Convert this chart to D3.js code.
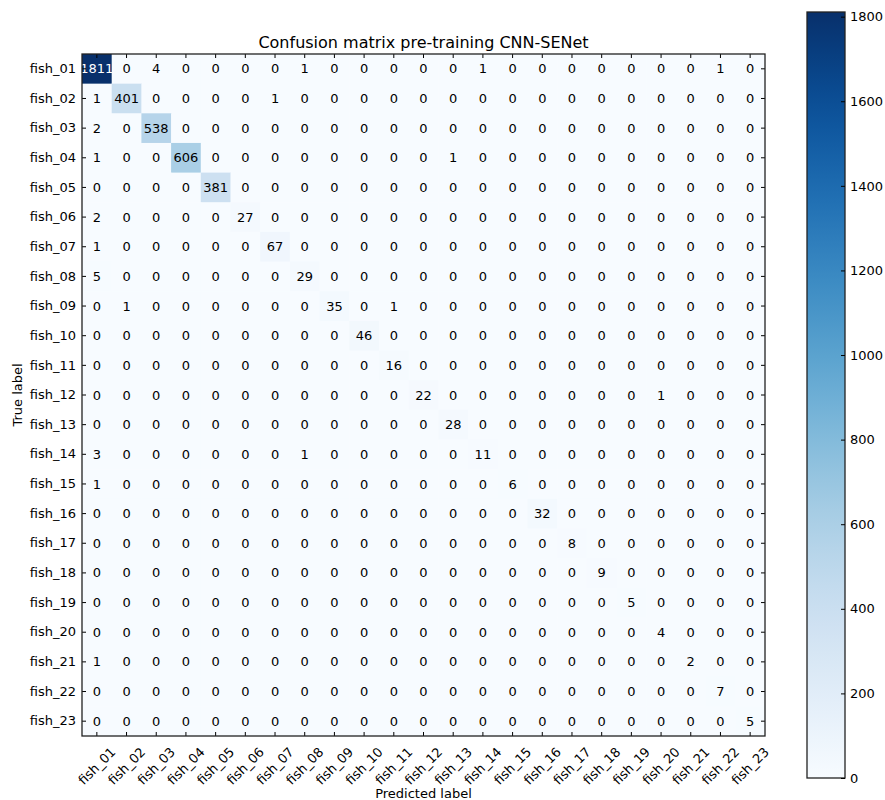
<!DOCTYPE html>
<html>
<head>
<meta charset="utf-8">
<script src="https://cdn.jsdelivr.net/npm/d3@7"></script>
<style>
  body { margin: 0; background: #fff; }
  text { font-family: "DejaVu Sans", sans-serif; fill: #000; }
</style>
</head>
<body>
<div id="chart"></div>
<script>
// class names, same for rows (true) and columns (predicted)
var classes = ["fish_01","fish_02","fish_03","fish_04","fish_05","fish_06","fish_07","fish_08",
               "fish_09","fish_10","fish_11","fish_12","fish_13","fish_14","fish_15","fish_16",
               "fish_17","fish_18","fish_19","fish_20","fish_21","fish_22","fish_23"];

// confusion matrix counts, one row per true label
var counts = [
  [1811,0,4,0,0,0,0,1,0,0,0,0,0,1,0,0,0,0,0,0,0,1,0],
  [1,401,0,0,0,0,1,0,0,0,0,0,0,0,0,0,0,0,0,0,0,0,0],
  [2,0,538,0,0,0,0,0,0,0,0,0,0,0,0,0,0,0,0,0,0,0,0],
  [1,0,0,606,0,0,0,0,0,0,0,0,1,0,0,0,0,0,0,0,0,0,0],
  [0,0,0,0,381,0,0,0,0,0,0,0,0,0,0,0,0,0,0,0,0,0,0],
  [2,0,0,0,0,27,0,0,0,0,0,0,0,0,0,0,0,0,0,0,0,0,0],
  [1,0,0,0,0,0,67,0,0,0,0,0,0,0,0,0,0,0,0,0,0,0,0],
  [5,0,0,0,0,0,0,29,0,0,0,0,0,0,0,0,0,0,0,0,0,0,0],
  [0,1,0,0,0,0,0,0,35,0,1,0,0,0,0,0,0,0,0,0,0,0,0],
  [0,0,0,0,0,0,0,0,0,46,0,0,0,0,0,0,0,0,0,0,0,0,0],
  [0,0,0,0,0,0,0,0,0,0,16,0,0,0,0,0,0,0,0,0,0,0,0],
  [0,0,0,0,0,0,0,0,0,0,0,22,0,0,0,0,0,0,0,1,0,0,0],
  [0,0,0,0,0,0,0,0,0,0,0,0,28,0,0,0,0,0,0,0,0,0,0],
  [3,0,0,0,0,0,0,1,0,0,0,0,0,11,0,0,0,0,0,0,0,0,0],
  [1,0,0,0,0,0,0,0,0,0,0,0,0,0,6,0,0,0,0,0,0,0,0],
  [0,0,0,0,0,0,0,0,0,0,0,0,0,0,0,32,0,0,0,0,0,0,0],
  [0,0,0,0,0,0,0,0,0,0,0,0,0,0,0,0,8,0,0,0,0,0,0],
  [0,0,0,0,0,0,0,0,0,0,0,0,0,0,0,0,0,9,0,0,0,0,0],
  [0,0,0,0,0,0,0,0,0,0,0,0,0,0,0,0,0,0,5,0,0,0,0],
  [0,0,0,0,0,0,0,0,0,0,0,0,0,0,0,0,0,0,0,4,0,0,0],
  [1,0,0,0,0,0,0,0,0,0,0,0,0,0,0,0,0,0,0,0,2,0,0],
  [0,0,0,0,0,0,0,0,0,0,0,0,0,0,0,0,0,0,0,0,0,7,0],
  [0,0,0,0,0,0,0,0,0,0,0,0,0,0,0,0,0,0,0,0,0,0,5]
];

var colorbarTicks = [0,200,400,600,800,1000,1200,1400,1600,1800];

var title = "Confusion matrix pre-training CNN-SENet";

var width = 885, height = 800;
var m = {left: 82, right: 765, top: 54, bottom: 736};

var svg = d3.select("#chart").append("svg")
    .attr("width", width).attr("height", height);

var maxVal = d3.max(counts, function(r){ return d3.max(r); });

var x = d3.scaleBand().domain(classes).range([m.left, m.right]).padding(0);
var y = d3.scaleBand().domain(classes).range([m.top, m.bottom]).padding(0);
var color = d3.scaleSequential(d3.interpolateBlues).domain([0, maxVal]);

// flatten into cells
var cells = [];
counts.forEach(function(row, i){
  row.forEach(function(v, j){
    cells.push({t: classes[i], p: classes[j], v: v});
  });
});

svg.append("g").selectAll("rect")
  .data(cells).enter().append("rect")
    .attr("x", function(d){ return x(d.p); })
    .attr("y", function(d){ return y(d.t); })
    .attr("width", x.bandwidth() + 0.5)
    .attr("height", y.bandwidth() + 0.5)
    .attr("fill", function(d){ return color(d.v); });

svg.append("g").selectAll("text")
  .data(cells).enter().append("text")
    .attr("x", function(d){ return x(d.p) + x.bandwidth()/2; })
    .attr("y", function(d){ return y(d.t) + y.bandwidth()/2; })
    .attr("dy", "0.35em")
    .attr("text-anchor", "middle")
    .style("font-size", "13px")
    .style("fill", function(d){ return d.v > maxVal/2 ? "#fff" : "#000"; })
    .text(function(d){ return d.v; });

// axes, ticks pointing inward like matplotlib classic
var yAxis = svg.append("g").attr("transform", "translate(" + m.left + ",0)")
  .call(d3.axisLeft(y).tickSize(-4).tickPadding(6));
yAxis.selectAll("text").style("font-size", "13px");

svg.append("g").attr("transform", "translate(" + m.right + ",0)")
  .call(d3.axisRight(y).tickSize(-4).tickFormat(""));
svg.append("g").attr("transform", "translate(0," + m.top + ")")
  .call(d3.axisTop(x).tickSize(-4).tickFormat(""));

var xAxis = svg.append("g").attr("transform", "translate(0," + m.bottom + ")")
  .call(d3.axisBottom(x).tickSize(-4).tickFormat(""));
xAxis.selectAll(".tick").append("text")
    .attr("transform", "translate(0,30) rotate(-45)")
    .attr("dy", "0.35em")
    .attr("text-anchor", "middle")
    .style("font-size", "13px")
    .text(function(d){ return d; });

svg.selectAll(".domain").remove();
svg.selectAll(".tick line").attr("stroke", "#000");

svg.append("rect")
  .attr("x", m.left).attr("y", m.top)
  .attr("width", m.right - m.left).attr("height", m.bottom - m.top)
  .attr("fill", "none").attr("stroke", "#222").attr("stroke-width", 1.3);

svg.append("text")
  .attr("x", (m.left + m.right)/2).attr("y", 48)
  .attr("text-anchor", "middle")
  .style("font-size", "16px")
  .text(title);

svg.append("text")
  .attr("x", (m.left + m.right)/2).attr("y", 798)
  .attr("text-anchor", "middle")
  .style("font-size", "13px")
  .text("Predicted label");

svg.append("text")
  .attr("transform", "translate(22," + (m.top + m.bottom)/2 + ") rotate(-90)")
  .attr("text-anchor", "middle")
  .style("font-size", "13px")
  .text("True label");

// colorbar
var cbLeft = 807, cbRight = 845, cbTop = 12, cbBottom = 778;
var cbScale = d3.scaleLinear().domain([0, maxVal]).range([cbBottom, cbTop]);

var grad = svg.append("defs").append("linearGradient")
  .attr("id", "cbgrad").attr("x1", 0).attr("y1", 1).attr("x2", 0).attr("y2", 0);
d3.range(0, 1.0001, 0.05).forEach(function(t){
  grad.append("stop").attr("offset", t).attr("stop-color", d3.interpolateBlues(t));
});

svg.append("rect")
  .attr("x", cbLeft).attr("y", cbTop)
  .attr("width", cbRight - cbLeft).attr("height", cbBottom - cbTop)
  .attr("fill", "url(#cbgrad)")
  .attr("stroke", "#222").attr("stroke-width", 1.3);

var cbAxis = svg.append("g").attr("transform", "translate(" + cbRight + ",0)")
  .call(d3.axisRight(cbScale).tickValues(colorbarTicks).tickFormat(d3.format("d"))
        .tickSize(-4).tickPadding(5));
cbAxis.select(".domain").remove();
cbAxis.selectAll(".tick line").attr("stroke", "#000");
cbAxis.selectAll("text").style("font-size", "13px");
</script>
</body>
</html>
